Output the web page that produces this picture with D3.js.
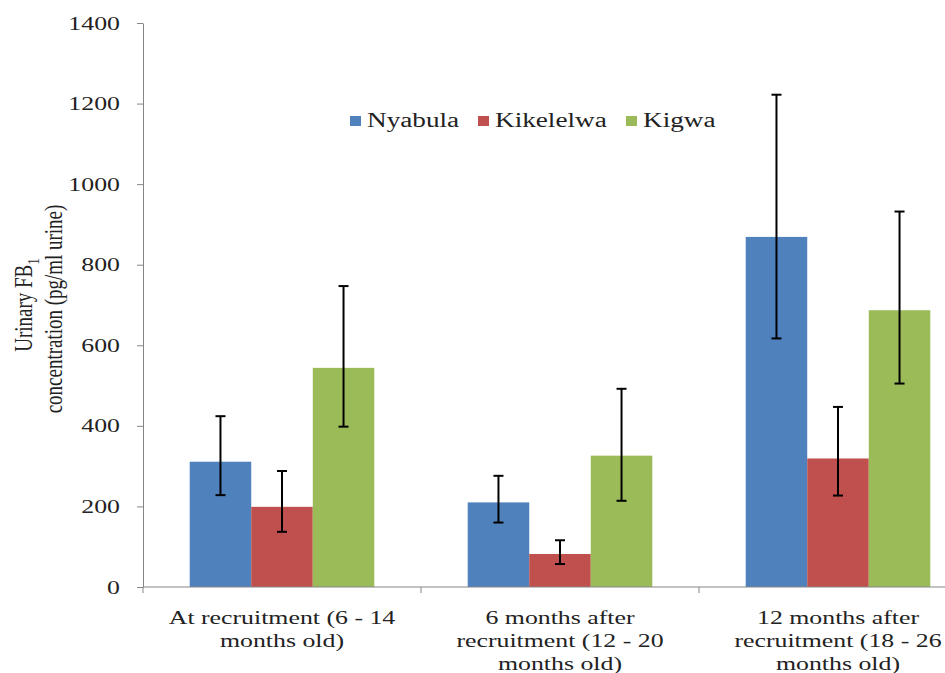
<!DOCTYPE html>
<html>
<head>
<meta charset="utf-8">
<script src="https://cdn.jsdelivr.net/npm/d3@7"></script>
<style>
  html, body { margin: 0; padding: 0; background: #fff; }
  svg { display: block; }
  text { font-family: "Liberation Serif", "Times New Roman", serif; fill: #222; }
</style>
</head>
<body>
<svg id="chart" width="945" height="673"></svg>
<script>
// ---------- data ----------
const categories = ["At recruitment", "6 months after", "12 months after"];
const categoryLines = [
  ["At recruitment (6 - 14", "months old)"],
  ["6 months after", "recruitment (12 - 20", "months old)"],
  ["12 months after", "recruitment (18 - 26", "months old)"]
];
const series = ["Nyabula", "Kikelelwa", "Kigwa"];
const nyabula   = [311, 210, 869];
const kikelelwa = [199, 82, 319];
const kigwa     = [544, 326, 687];
const nyabulaLow    = [228, 160, 617];
const nyabulaHigh   = [424, 276, 1222];
const kikelelwaLow  = [137, 57, 227];
const kikelelwaHigh = [288, 116, 447];
const kigwaLow      = [398, 214, 505];
const kigwaHigh     = [747, 492, 932];
const yTicks = [0, 200, 400, 600, 800, 1000, 1200, 1400];
const colors = ["#4F81BD", "#C0504D", "#9BBB59"];

const values = [nyabula, kikelelwa, kigwa];
const lows = [nyabulaLow, kikelelwaLow, kigwaLow];
const highs = [nyabulaHigh, kikelelwaHigh, kigwaHigh];

const rows = [];
categories.forEach((c, ci) => {
  series.forEach((s, si) => {
    rows.push({cat: c, ser: s, si, v: values[si][ci], lo: lows[si][ci], hi: highs[si][ci]});
  });
});

// ---------- layout ----------
const SX = 1.36;           // horizontal stretch of the original text
const svg = d3.select("#chart");
const y = d3.scaleLinear().domain([0, 1400]).range([587, 23]);
const x0 = d3.scaleBand().domain(categories).range([143, 977]).padding(0);
const gap = x0.bandwidth() * 0.168;
const x1 = d3.scaleBand().domain(series).range([gap, x0.bandwidth() - gap]).padding(0);

// ---------- bars ----------
const g = svg.append("g");
g.selectAll("rect.bar").data(rows).join("rect")
  .attr("class", "bar")
  .attr("x", d => x0(d.cat) + x1(d.ser))
  .attr("width", x1.bandwidth())
  .attr("y", d => y(d.v))
  .attr("height", d => y(0) - y(d.v))
  .attr("fill", d => colors[d.si]);

// ---------- error bars ----------
const eb = g.selectAll("g.err").data(rows).join("g").attr("class", "err")
  .attr("transform", d => `translate(${x0(d.cat) + x1(d.ser) + x1.bandwidth() / 2},0)`);
eb.append("line").attr("x1", 0).attr("x2", 0)
  .attr("y1", d => y(d.lo)).attr("y2", d => y(d.hi))
  .attr("stroke", "#000").attr("stroke-width", 2);
eb.append("line").attr("x1", -5).attr("x2", 5)
  .attr("y1", d => y(d.hi)).attr("y2", d => y(d.hi))
  .attr("stroke", "#000").attr("stroke-width", 2);
eb.append("line").attr("x1", -5).attr("x2", 5)
  .attr("y1", d => y(d.lo)).attr("y2", d => y(d.lo))
  .attr("stroke", "#000").attr("stroke-width", 2);

// ---------- y axis ----------
const yAxis = svg.append("g").attr("transform", "translate(143,0)")
  .call(d3.axisLeft(y).tickValues(yTicks).tickSize(6).tickSizeOuter(0).tickFormat(d3.format("d")));
yAxis.select(".domain").attr("stroke", "#868686");
yAxis.selectAll(".tick line").attr("stroke", "#868686");
yAxis.selectAll(".tick text")
  .attr("x", null).attr("dy", null)
  .attr("transform", `translate(-23,6) scale(${SX},1)`)
  .attr("text-anchor", "end")
  .style("font-family", "'Liberation Serif', serif")
  .style("font-size", "19px")
  .attr("fill", "#222");

// ---------- x axis ----------
const xAxis = svg.append("g").attr("transform", "translate(0,587)");
xAxis.append("line").attr("x1", x0.range()[0]).attr("x2", x0.range()[1])
  .attr("y1", 0).attr("y2", 0).attr("stroke", "#868686").attr("stroke-width", 1);
const bounds = categories.map(c => x0(c)).concat([x0.range()[1]]);
xAxis.selectAll("line.tk").data(bounds).join("line").attr("class", "tk")
  .attr("x1", d => d).attr("x2", d => d).attr("y1", 0).attr("y2", 6)
  .attr("stroke", "#868686");

categoryLines.forEach((lines, ci) => {
  const cx = x0(categories[ci]) + x0.bandwidth() / 2;
  lines.forEach((ln, li) => {
    svg.append("text")
      .attr("transform", `translate(${cx},${624 + li * 23}) scale(${SX},1)`)
      .attr("text-anchor", "middle")
      .style("font-size", "19px")
      .text(ln);
  });
});

// ---------- y label ----------
const yl1 = svg.append("text")
  .attr("transform", `translate(32,305) scale(${SX},1) rotate(-90)`)
  .attr("text-anchor", "middle").style("font-size", "19px");
yl1.append("tspan").text("Urinary FB");
yl1.append("tspan").attr("dy", 5).style("font-size", "13px").text("1");
svg.append("text")
  .attr("transform", `translate(62,309) scale(${SX},1) rotate(-90)`)
  .attr("text-anchor", "middle").style("font-size", "19px")
  .text("concentration (pg/ml urine)");

// ---------- legend ----------
const legendX = [350, 478, 626];
series.forEach((s, i) => {
  svg.append("rect").attr("x", legendX[i]).attr("y", 116).attr("width", 11).attr("height", 10)
    .attr("fill", colors[i]);
  svg.append("text")
    .attr("transform", `translate(${legendX[i] + 17},127) scale(${SX},1)`)
    .style("font-size", "20px").text(s);
});
</script>
</body>
</html>
